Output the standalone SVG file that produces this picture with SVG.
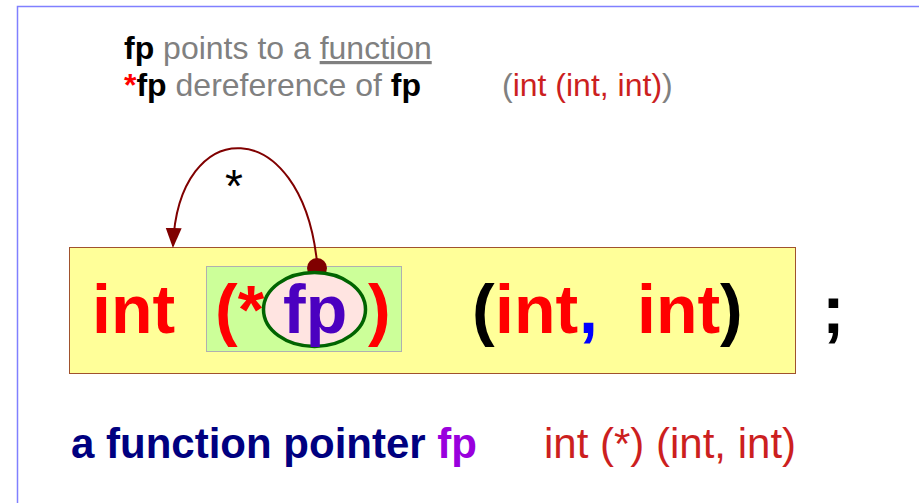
<svg xmlns="http://www.w3.org/2000/svg" width="919" height="503" viewBox="0 0 919 503">
<defs>
<style>
text{font-family:"Liberation Sans",Arial,sans-serif}
.b{font-weight:bold}
.g{fill:#808080}
.k{fill:#000}
.r{fill:#ff0000}
.dr{fill:#cc1f1f}
.big{font-size:68px;font-weight:bold}
</style>
<marker id="ah" viewBox="0 0 20 26" refX="18" refY="13" markerWidth="20" markerHeight="26" markerUnits="userSpaceOnUse" orient="auto">
<path d="M0,5 L20,13 L0,21 Z" fill="#800000"/>
</marker>
</defs>
<rect width="919" height="503" fill="#fff"/>
<path d="M17.5,503 V6.5 H919" fill="none" stroke="#8080ff" stroke-width="1.5"/>

<g id="caption">
<text x="124" y="59" font-size="32"><tspan class="b k">fp</tspan><tspan class="g"> points to a </tspan><tspan class="g" text-decoration="underline">function</tspan></text>
<text x="124" y="96" font-size="32"><tspan class="b r">*</tspan><tspan class="b k">fp</tspan><tspan class="g"> dereference of </tspan><tspan class="b k">fp</tspan></text>
<text x="502" y="96" font-size="32"><tspan class="g">(</tspan><tspan class="dr">int (int, int)</tspan><tspan class="g">)</tspan></text>
</g>

<g id="decl">
<rect x="69.5" y="247.5" width="726" height="126" fill="#ffff99" stroke="#a0522d" stroke-width="1"/>
<text x="92" y="333" class="big r">int</text>
</g>

<g id="group">
<rect x="206.5" y="266.5" width="195" height="85" fill="#ccff99" stroke="#b0b0b0" stroke-width="1"/>
<text x="215" y="333" class="big r">(*</text>
<text x="368" y="333" class="big r">)</text>
</g>

<g id="connectors">
<circle cx="317" cy="268" r="10" fill="#800000"/>
<path d="M317,262 C301,113 178,113 173,246" fill="none" stroke="#800000" stroke-width="2" marker-end="url(#ah)"/>
<text x="225" y="202" font-size="46" class="k">*</text>
</g>

<g id="fp">
<ellipse cx="314.5" cy="309.5" rx="51" ry="37" fill="#ffe4e1" stroke="#006400" stroke-width="3.5"/>
<text x="283" y="333" class="big" fill="#4b00c0">fp</text>
</g>

<g id="params">
<text y="333" class="big"><tspan x="472" class="k">(</tspan><tspan x="495" class="r">int</tspan><tspan x="579" fill="#0000ff">,</tspan><tspan x="637" class="r">int</tspan><tspan x="720" class="k">)</tspan></text>
<text x="822" y="333" class="big k">;</text>
</g>

<g id="summary">
<text x="71" y="458" font-size="42" class="b"><tspan fill="#000080">a function pointer </tspan><tspan fill="#9900dd">fp</tspan></text>
<text x="544" y="458" font-size="42" class="dr">int (*) (int, int)</text>
</g>
</svg>
